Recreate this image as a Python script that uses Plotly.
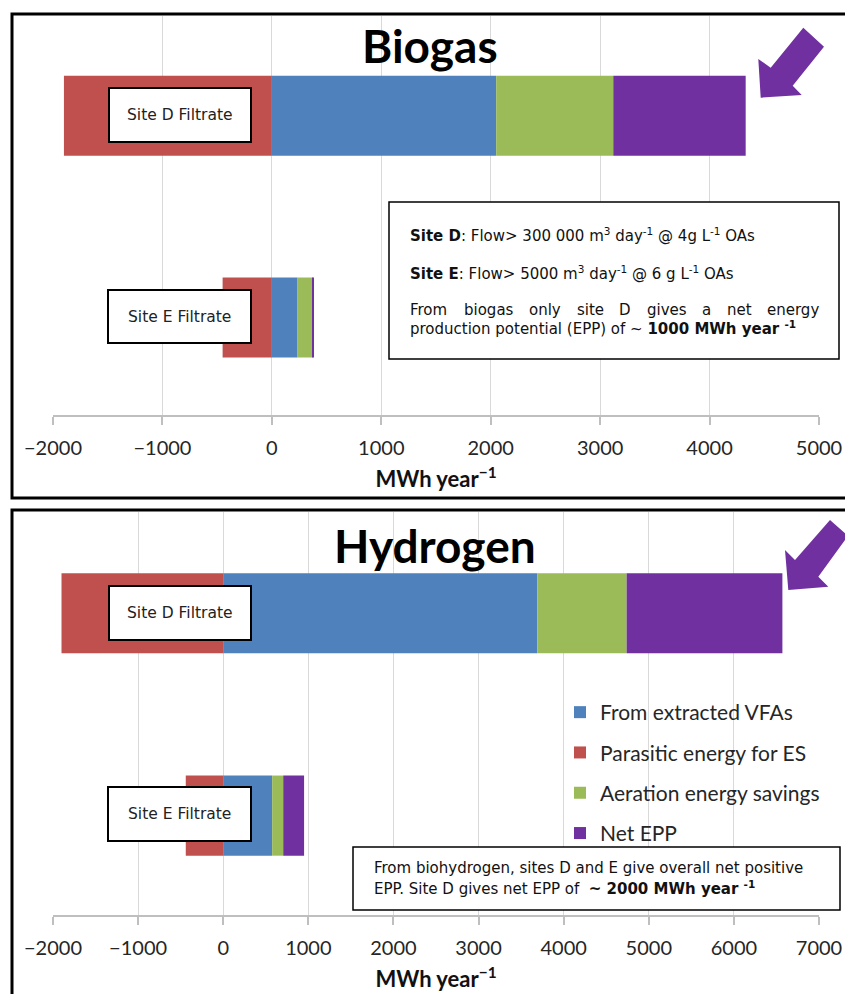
import plotly.graph_objects as go

W, H = 845, 994

# ---------------- data ----------------
sites = ["Site E Filtrate", "Site D Filtrate"]
site_pos = [0, 1]

series_names = ["From extracted VFAs", "Parasitic energy for ES",
                "Aeration energy savings", "Net EPP"]
series_colors = ["#4F81BD", "#C0504D", "#9BBB59", "#7030A0"]

# Biogas panel (Site E, Site D), MWh/year
bio_vfa = [235, 2050]
bio_parasitic = [-450, -1900]
bio_aeration = [140, 1070]
bio_net = [10, 1210]

# Hydrogen panel (Site E, Site D), MWh/year
h2_vfa = [575, 3690]
h2_parasitic = [-440, -1900]
h2_aeration = [130, 1050]
h2_net = [245, 1830]

bio_ticks = [-2000, -1000, 0, 1000, 2000, 3000, 4000, 5000]
h2_ticks = [-2000, -1000, 0, 1000, 2000, 3000, 4000, 5000, 6000, 7000]


def px(x):
    return x / W


def py(y):
    return 1 - y / H


fig = go.Figure()

bio_series = [bio_vfa, bio_parasitic, bio_aeration, bio_net]
h2_series = [h2_vfa, h2_parasitic, h2_aeration, h2_net]

for name, col, vals in zip(series_names, series_colors, bio_series):
    fig.add_trace(go.Bar(x=vals, y=site_pos, orientation="h", name=name,
                         marker=dict(color=col, line=dict(width=0)),
                         width=0.396, xaxis="x", yaxis="y",
                         legendgroup=name, showlegend=False))
for name, col, vals in zip(series_names, series_colors, h2_series):
    fig.add_trace(go.Bar(x=vals, y=site_pos, orientation="h", name=name,
                         marker=dict(color=col, line=dict(width=0)),
                         width=0.396, xaxis="x2", yaxis="y2",
                         legendgroup=name, showlegend=True))

tickfont = dict(family="Lato", size=20, color="#262626")
titlefont = dict(family="Lato", size=22, color="#111111", weight="bold")
common_x = dict(showgrid=True, gridcolor="#d9d9d9", gridwidth=1,
                showline=True, linecolor="#bfbfbf", linewidth=1.5,
                ticks="outside", ticklen=8, tickcolor="#bfbfbf", tickwidth=1.5,
                zeroline=False, tickfont=tickfont, ticklabelstandoff=6,
                automargin=False, fixedrange=True)

fig.update_layout(
    template="none",
    width=W, height=H,
    margin=dict(l=0, r=0, t=0, b=0, pad=0, autoexpand=False),
    paper_bgcolor="white", plot_bgcolor="white",
    barmode="relative",
    xaxis=dict(domain=[px(53), px(819)], range=[-2000, 5000],
               tickvals=bio_ticks, anchor="y",
               title=dict(text="MWh year<sup>−1</sup>", font=titlefont, standoff=14),
               **common_x),
    yaxis=dict(domain=[py(415), py(16)], range=[-0.483, 1.494],
               visible=False, fixedrange=True, anchor="x"),
    xaxis2=dict(domain=[px(53), px(819)], range=[-2000, 7000],
                tickvals=h2_ticks, anchor="y2",
                title=dict(text="MWh year<sup>−1</sup>", font=titlefont, standoff=14),
                **common_x),
    yaxis2=dict(domain=[py(915), py(512)], range=[-0.491, 1.5],
                visible=False, fixedrange=True, anchor="x2"),
    legend=dict(x=px(560), y=py(692), xanchor="left", yanchor="top",
                font=dict(family="Lato", size=21, color="#262626"),
                bgcolor="rgba(0,0,0,0)", borderwidth=0, traceorder="grouped",
                tracegroupgap=10),
    showlegend=True,
)

shapes = []
# panel borders
shapes.append(dict(type="rect", xref="paper", yref="paper",
                   x0=px(12), x1=1.02, y0=py(498), y1=py(14),
                   line=dict(color="black", width=3), fillcolor="rgba(0,0,0,0)",
                   layer="above"))
shapes.append(dict(type="rect", xref="paper", yref="paper",
                   x0=px(12), x1=1.02, y0=-0.02, y1=py(510),
                   line=dict(color="black", width=3), fillcolor="rgba(0,0,0,0)",
                   layer="above"))


def arrow(pts):
    d = "M " + " L ".join(f"{px(x):.5f},{py(y):.5f}" for x, y in pts) + " Z"
    return dict(type="path", xref="paper", yref="paper", path=d,
                fillcolor="#7030A0", line=dict(width=0), layer="above")


shapes.append(arrow([(760.7, 97.7), (758.3, 59), (770.7, 67.7), (803.3, 27.7),
                     (824, 46.7), (792.7, 85.7), (801.7, 95)]))
shapes.append(arrow([(788.3, 590), (785, 550), (795, 560), (830, 520),
                     (848, 536), (818.3, 576.7), (828.3, 586.7)]))


def box(x0, y0, x1, y1, w=2):
    return dict(type="rect", xref="paper", yref="paper",
                x0=px(x0), x1=px(x1), y0=py(y1), y1=py(y0),
                fillcolor="white", line=dict(color="black", width=w),
                layer="above")


# site label boxes
label_boxes = [(109, 88, 251, 142), (108, 290, 251, 343),
               (109, 586, 251, 640), (108, 787, 251, 841)]
for b in label_boxes:
    shapes.append(box(*b))
# info boxes
shapes.append(box(389, 202, 839, 359, 1.5))
shapes.append(box(353, 847, 840, 910, 1.5))

fig.update_layout(shapes=shapes)

ann = []
# panel titles
ann.append(dict(text="<b>Biogas</b>", x=px(430), y=py(45), xref="paper", yref="paper",
                xanchor="center", yanchor="middle",
                showarrow=False, font=dict(family="Lato", size=46, color="black")))
ann.append(dict(text="<b>Hydrogen</b>", x=px(435), y=py(545), xref="paper", yref="paper",
                xanchor="center", yanchor="middle",
                showarrow=False, font=dict(family="Lato", size=46, color="black")))

lblfont = dict(family="DejaVu Sans", size=15.5, color="#222222")
label_text = [sites[1], sites[0], sites[1], sites[0]]
for (x0, y0, x1, y1), t in zip(label_boxes, label_text):
    ann.append(dict(text=t, x=px((x0 + x1) / 2), y=py((y0 + y1) / 2),
                    xref="paper", yref="paper", xanchor="center", yanchor="middle",
                    align="center", showarrow=False, font=lblfont))


def line(text, x, y, size):
    ann.append(dict(text=text, x=px(x), y=py(y), xref="paper", yref="paper",
                    xanchor="left", yanchor="middle", align="left",
                    showarrow=False,
                    font=dict(family="DejaVu Sans", size=size, color="#111111")))


line("<b>Site D</b>: Flow&gt; 300 000 m<sup>3</sup> day<sup>-1</sup> @ 4g L<sup>-1</sup> OAs", 408, 235, 15)
line("<b>Site E</b>: Flow&gt; 5000 m<sup>3</sup> day<sup>-1</sup> @ 6 g L<sup>-1</sup> OAs", 408, 273, 15)
# justified line: words spread across the box width
words = [("From", 408), ("biogas", 462), ("only", 527), ("site", 574.5), ("D", 617),
         ("gives", 644.5), ("a", 699.5), ("net", 724.5), ("energy", 764.5)]
for w, x in words:
    line(w, x, 310, 15)
line("production potential (EPP) of ~ <b>1000 MWh year <sup>-1</sup></b>", 408, 328, 15)

line("From biohydrogen, sites D and E give overall net positive", 372, 868, 15)
line("EPP. Site D gives net EPP of  <b>~ 2000 MWh year <sup>-1</sup></b>", 372, 888, 15)

fig.update_layout(annotations=ann)

fig.write_html("out.html",
               config={"displayModeBar": False},
               post_script="document.body.style.margin='0';"
                           "document.body.style.overflow='hidden';")
